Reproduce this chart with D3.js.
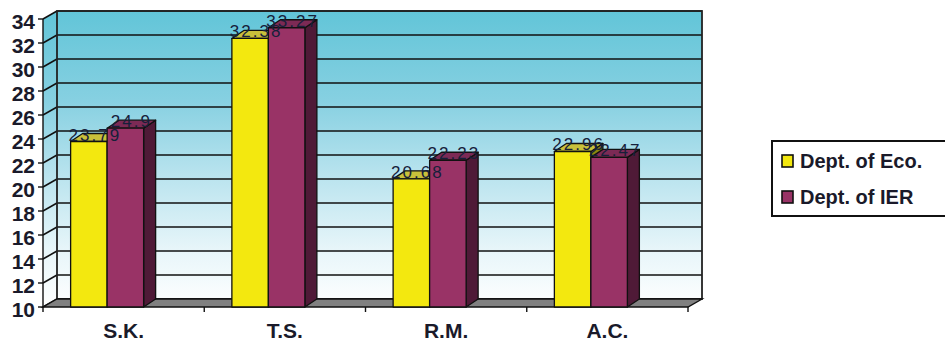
<!DOCTYPE html>
<html>
<head>
<meta charset="utf-8">
<script src="https://cdn.jsdelivr.net/npm/d3@7"></script>
<style>
  html, body { margin: 0; padding: 0; background: #ffffff; }
  svg { display: block; }
</style>
</head>
<body>
<svg id="chart" width="945" height="341"></svg>
<script>
// Scores per group for each department
const categories = ["S.K.", "T.S.", "R.M.", "A.C."];
const seriesNames = ["Dept. of Eco.", "Dept. of IER"];
const ecoValues = [23.79, 32.38, 20.68, 22.96];
const ierValues = [24.9, 33.27, 22.23, 22.47];
const yTicks = [10, 12, 14, 16, 18, 20, 22, 24, 26, 28, 30, 32, 34];

const seriesValues = [ecoValues, ierValues];
const frontColors = ["#f3e80f", "#993366"];
const topColors = ["#c9c13a", "#7c2a55"];
const sideColors = ["#8c8510", "#4f1a37"];

const svg = d3.select("#chart");
const font = "'Liberation Sans', Arial, sans-serif";

// 3D depth offset of the chart box and of each bar
const depth = { dx: 14, dy: -8 };
const barDepth = { dx: 12, dy: -8 };

// Plot frame (front plane)
const x0 = 43, x1 = 688;
const yFront = d3.scaleLinear().domain([10, 34]).range([307, 19]);
const yBack = v => yFront(v) + depth.dy;

const xBand = d3.scaleBand().domain(categories).range([x0, x1]);
const xInner = d3.scaleBand().domain(seriesNames).range([-53, 20]);

// Wall gradient
const defs = svg.append("defs");
const grad = defs.append("linearGradient")
  .attr("id", "wallGrad")
  .attr("gradientUnits", "userSpaceOnUse")
  .attr("x1", 0).attr("x2", 0)
  .attr("y1", yBack(34)).attr("y2", yFront(10));
[[0, "#62c5d8"], [0.3, "#86d0e1"], [0.55, "#b8e3ee"], [0.8, "#e6f5f9"], [1, "#ffffff"]]
  .forEach(([o, c]) => grad.append("stop").attr("offset", o).attr("stop-color", c));

const pts = a => a.map(p => p.join(",")).join(" ");

// Back wall
svg.append("rect")
  .attr("x", x0 + depth.dx).attr("y", yBack(34))
  .attr("width", x1 - x0).attr("height", yBack(10) - yBack(34))
  .attr("fill", "url(#wallGrad)");

// Left side wall
svg.append("polygon")
  .attr("points", pts([[x0, yFront(34)], [x0 + depth.dx, yBack(34)], [x0 + depth.dx, yBack(10)], [x0, yFront(10)]]))
  .attr("fill", "url(#wallGrad)");

// Gridlines on back wall and side wall
const grid = svg.append("g").attr("stroke", "#111").attr("stroke-width", 1.6).attr("fill", "none");
yTicks.forEach(v => {
  grid.append("line")
    .attr("x1", x0 + depth.dx).attr("x2", x1 + depth.dx)
    .attr("y1", yBack(v)).attr("y2", yBack(v));
  grid.append("line")
    .attr("x1", x0).attr("y1", yFront(v))
    .attr("x2", x0 + depth.dx).attr("y2", yBack(v));
});

// Wall outline
svg.append("rect")
  .attr("x", x0 + depth.dx).attr("y", yBack(34))
  .attr("width", x1 - x0).attr("height", yBack(10) - yBack(34))
  .attr("fill", "none").attr("stroke", "#222").attr("stroke-width", 1.8);

// Floor
svg.append("polygon")
  .attr("points", pts([[x0, yFront(10)], [x1, yFront(10)], [x1 + depth.dx, yBack(10)], [x0 + depth.dx, yBack(10)]]))
  .attr("fill", "#808080").attr("stroke", "#111").attr("stroke-width", 1.4);

// Y axis (front edge) with ticks
const yAxis = svg.append("g").attr("stroke", "#111").attr("stroke-width", 1.4);
yAxis.append("line").attr("x1", x0).attr("x2", x0).attr("y1", yFront(34)).attr("y2", yFront(10));
yTicks.forEach(v => {
  yAxis.append("line").attr("x1", x0 - 5).attr("x2", x0).attr("y1", yFront(v)).attr("y2", yFront(v));
});
svg.append("g").selectAll("text").data(yTicks).join("text")
  .attr("x", 35).attr("y", d => yFront(d) + 9.5)
  .attr("text-anchor", "end")
  .attr("font-family", font).attr("font-size", 21).attr("font-weight", "bold")
  .attr("fill", "#1a1a2a")
  .text(d => d);

// Category ticks on front floor edge
const xTickPos = categories.map(c => xBand(c)).concat([x1]);
svg.append("g").selectAll("line").data(xTickPos).join("line")
  .attr("x1", d => d).attr("x2", d => d)
  .attr("y1", yFront(10)).attr("y2", yFront(10) + 5)
  .attr("stroke", "#111").attr("stroke-width", 1.4);

// Category labels
svg.append("g").selectAll("text").data(categories).join("text")
  .attr("x", d => xBand(d) + xBand.bandwidth() / 2)
  .attr("y", 338)
  .attr("text-anchor", "middle")
  .attr("font-family", font).attr("font-size", 21).attr("font-weight", "bold")
  .attr("fill", "#1a1a2a")
  .text(d => d);

// 3D bars
const bw = xInner.bandwidth();
const barsG = svg.append("g").attr("stroke", "#111").attr("stroke-width", 1.3).attr("stroke-linejoin", "round");
const labelData = [];
categories.forEach((cat, ci) => {
  const cx = xBand(cat) + xBand.bandwidth() / 2;
  seriesNames.forEach((s, si) => {
    const v = seriesValues[si][ci];
    const left = cx + xInner(s);
    const right = left + bw;
    const top = yFront(v);
    const bottom = yFront(10);
    const { dx, dy } = barDepth;
    // side face
    barsG.append("polygon")
      .attr("points", pts([[right, top], [right + dx, top + dy], [right + dx, bottom + dy], [right, bottom]]))
      .attr("fill", sideColors[si]);
    // top face
    barsG.append("polygon")
      .attr("points", pts([[left, top], [left + dx, top + dy], [right + dx, top + dy], [right, top]]))
      .attr("fill", topColors[si]);
    // front face
    barsG.append("rect")
      .attr("x", left).attr("y", top)
      .attr("width", bw).attr("height", bottom - top)
      .attr("fill", frontColors[si]);
    labelData.push({ x: left + bw / 2 + dx / 2, y: top - 1, v });
  });
});

// Value labels
svg.append("g").selectAll("text").data(labelData).join("text")
  .attr("x", d => d.x).attr("y", d => d.y)
  .attr("text-anchor", "middle")
  .attr("font-family", font).attr("font-size", 17)
  .attr("letter-spacing", 2)
  .attr("fill", "#16203a")
  .text(d => d.v);

// Legend
const legend = svg.append("g");
legend.append("rect")
  .attr("x", 772).attr("y", 141).attr("width", 190).attr("height", 75)
  .attr("fill", "#ffffff").attr("stroke", "#111").attr("stroke-width", 2);
seriesNames.forEach((s, i) => {
  const ly = 155 + i * 36;
  legend.append("rect")
    .attr("x", 782).attr("y", ly).attr("width", 11).attr("height", 12)
    .attr("fill", frontColors[i]).attr("stroke", "#111").attr("stroke-width", 1.6);
  legend.append("text")
    .attr("x", 800).attr("y", ly + 13)
    .attr("font-family", font).attr("font-size", 20).attr("font-weight", "bold")
    .attr("fill", "#1a1a2a")
    .text(s);
});
</script>
</body>
</html>
